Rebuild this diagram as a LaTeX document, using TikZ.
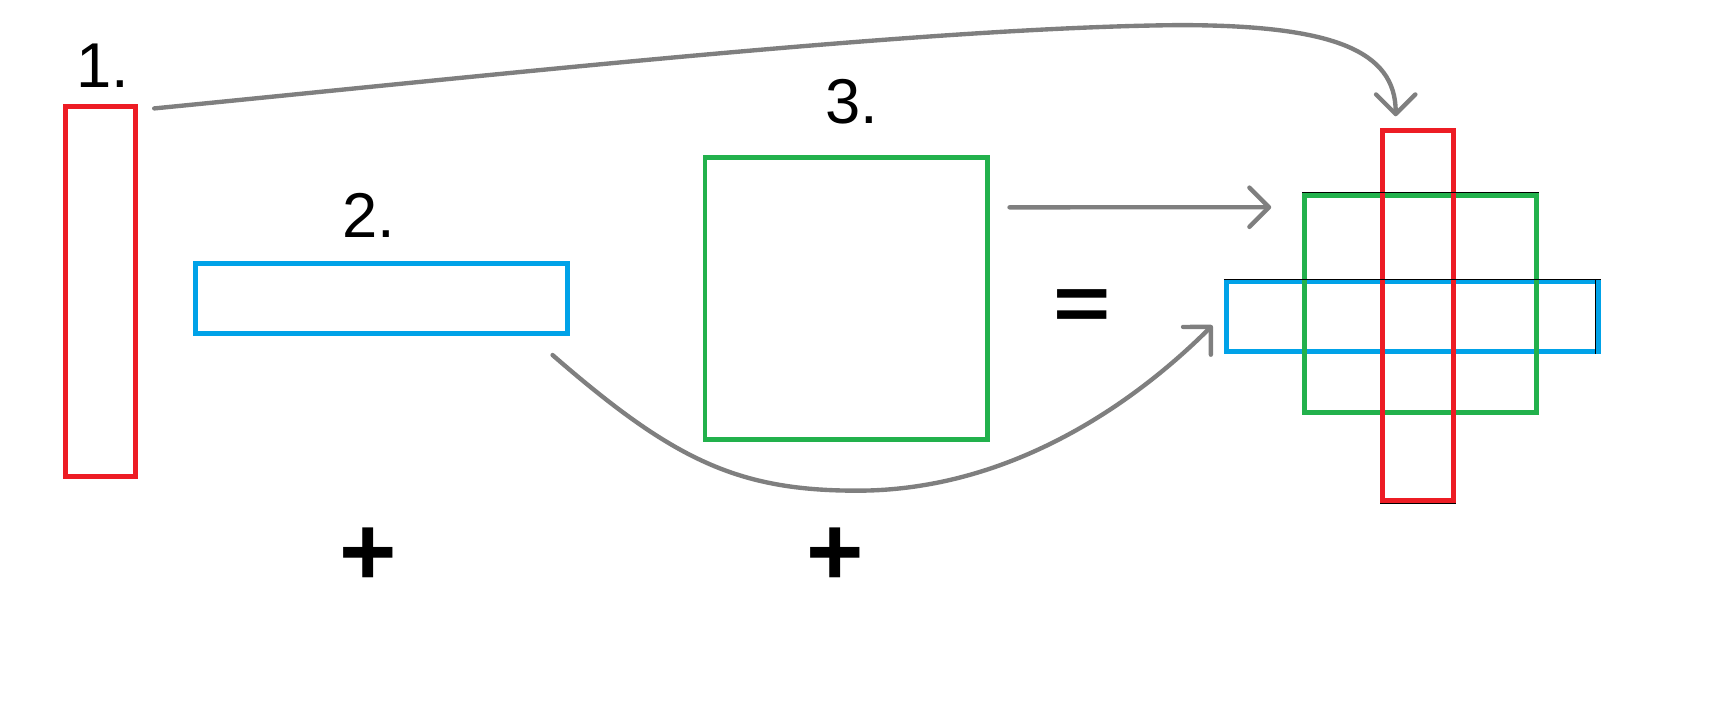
\documentclass[tikz,border=0pt]{standalone}
\usepackage{fontspec}
\setmainfont{Liberation Sans}
\usetikzlibrary{arrows.meta}
\definecolor{pred}{RGB}{237,28,36}
\definecolor{pblue}{RGB}{0,162,232}
\definecolor{pgreen}{RGB}{34,177,76}
\definecolor{pgray}{RGB}{127,127,127}
\tikzset{
  shapebox/.style={draw, rectangle, line width=4.5pt, inner sep=0pt, outer sep=0pt},
  vbar/.style={shapebox, draw=pred, minimum width=64.5pt, minimum height=339pt},
  hbar/.style={shapebox, draw=pblue, minimum width=341.2pt, minimum height=63.8pt},
  sqbox/.style={shapebox, draw=pgreen},
  lbl/.style={font=\fontsize{58}{58}\selectfont, inner sep=0pt},
  opsym/.style={font=\fontsize{90}{90}\selectfont\bfseries, inner sep=0pt, anchor=base},
  conn/.style={draw=pgray, line width=4pt, line cap=round,
    -{Straight Barb[length=18pt, width=36pt, round]}},
  artifact/.style={draw=black, line width=0.9pt}
}
\begin{document}
\begin{tikzpicture}[x=1pt,y=-1pt]
\useasboundingbox (0,0) rectangle (1568,661);
% source shapes
\node[vbar] (r1) at (92,267.3) {};
\node[hbar] (b2) at (349.3,273.3) {};
\node[sqbox, minimum width=259pt, minimum height=258.6pt] (g3) at (775.2,273.4) {};
% labels
\node[lbl] (l1) at (94,60) {1.};
\node[lbl] (l2) at (338,197) {2.};
\node[lbl] (l3) at (780,93) {3.};
\node[opsym] (p1) at (337.5,536.5) {+};
\node[opsym] (p2) at (765,536.5) {+};
\node[opsym] (eq) at (991,303) {\scalebox{1}[0.8]{=}};
% result
\node[hbar] (rb) at (1293.8,290.2) {};
\node[sqbox, minimum width=212pt, minimum height=199pt] (rg) at (1301,278.2) {};
\node[vbar] (rr) at (1298.6,289.3) {};
% thin dark edges of the result
\draw[artifact] ([shift={(-2.25pt,2.7pt)}]rg.north west) -- ([shift={(2.25pt,2.7pt)}]rg.north east);
\draw[artifact] ([shift={(-2.25pt,2.7pt)}]rb.north west) -- ([shift={(2.25pt,2.7pt)}]rb.north east);
\draw[artifact] ([shift={(-2.7pt,2.25pt)}]rb.north east) -- ([shift={(-2.7pt,-2.25pt)}]rb.south east);
\draw[artifact] ([shift={(-2.25pt,-2.7pt)}]rr.south west) -- ([shift={(2.25pt,-2.7pt)}]rr.south east);
% connector ends
\coordinate (s1) at ([shift={(17,1.5)}]r1.north east);
\coordinate (e1) at ([shift={(-20.3,-13.3)}]rr.north);
\coordinate (s3) at ([shift={(19.9,-83.5)}]g3.east);
\coordinate (e3) at ([shift={(-30.7,-88.4)}]rg.west);
\coordinate (s2) at ([shift={(-13.8,20)}]b2.south east);
\coordinate (e2) at ([shift={(-12.8,7.8)}]rb.west);
% connectors
\draw[conn] (s1) .. controls (450,69) and (850,25) .. (1080,23)
                 .. controls (1220,23) and (e1 |- 0,46) .. (e1);
\draw[conn] (s3) -- (e3);
\draw[conn] (s2) .. controls (616.2,420.9) and (675,449.4) .. (785,449.4)
                 .. controls (935,449.4) and (1050.5,358) .. (e2);
\end{tikzpicture}
\end{document}
